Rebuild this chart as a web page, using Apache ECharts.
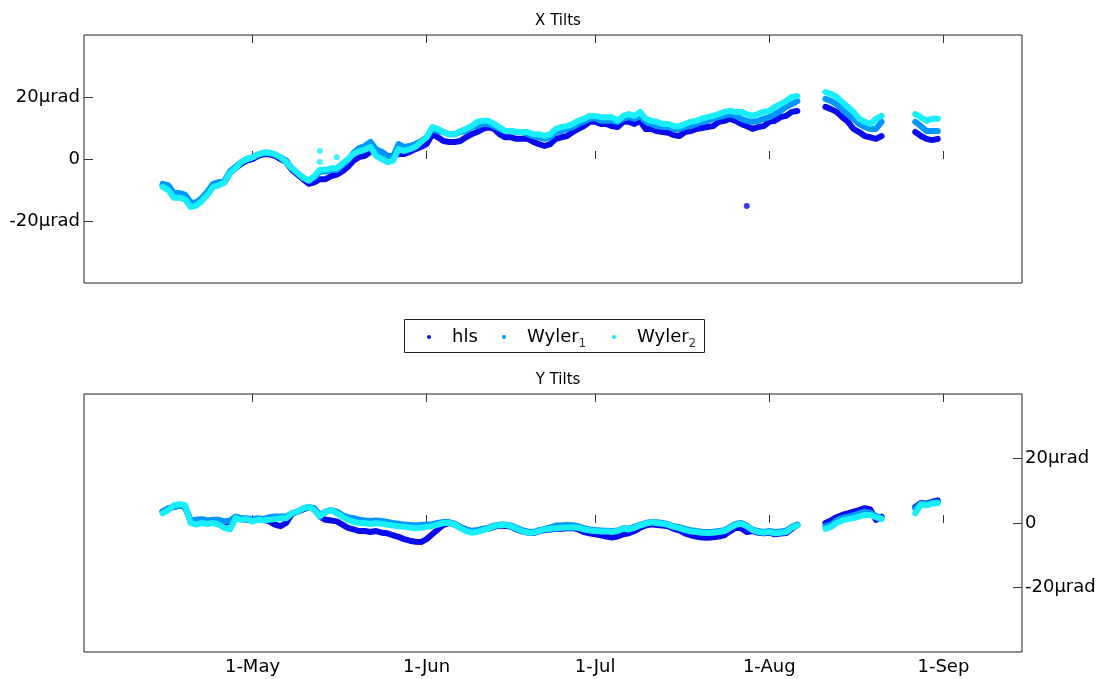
<!DOCTYPE html>
<html><head><meta charset="utf-8">
<script src="https://cdn.jsdelivr.net/npm/echarts@6/dist/echarts.min.js"></script>
<style>html,body{margin:0;padding:0;background:#fff}#c{width:1099px;height:679px}</style>
</head><body><div id="c"></div>
<script>
// ---- data (daily, from 15-Apr to 31-Aug; null = no data) ----
const startDate = '2010-04-15';
const axisStart = '2010-04-01';
const axisEnd = '2010-09-15';
const xTickDates = ['2010-05-01','2010-06-01','2010-07-01','2010-08-01','2010-09-01'];
const yTickValues = [-20, 0, 20];
const seriesNames = ['hls', 'Wyler1', 'Wyler2'];

const xTiltHls = [
 -8.5,-9,-11.5,-11.5,-12,-14.5,-14.5,-13,-11,-8.5,
 -8,-7.5,-4.5,-3,-1.5,-0.5,0,1,1.5,1.5,
 1,0,-1,-3.5,-5,-6.5,-8,-7.5,-6.5,-6.5,
 -5.5,-5,-4,-2.5,-0.5,0.6,1,2.3,2.6,2.3,
 1,1,1.6,1.6,2.3,3.2,3.9,4.8,8,7,
 5.8,5.5,5.5,5.8,7,8,8.7,9.7,10.3,9.7,
 8,7,7,6.5,6.5,6.5,5.5,4.8,4.2,4.8,
 6.5,7,7.4,8.7,9.7,10.6,12,12,11.3,11.3,
 10.6,10.3,12,12,11.3,12.3,9.7,9.7,9,8.7,
 8.5,7.7,7.4,8.7,9,9.7,10,10.3,10.6,12,
 12.3,13,12.3,11.3,10.6,9.7,10.3,10.6,12,12.3,
 13.5,13.9,15.2,15.5,null,null,null,null,16.8,16.1,
 15.2,13.5,12,9.7,8.7,7.4,7,6.5,7.4,null,
 null,null,null,null,8.7,7.4,6.5,6.1,6.5
];
const xTiltWyler1 = [
 -8,-8.5,-11,-11,-11.5,-14,-14,-12.5,-10.5,-8,
 -7.5,-7,-4,-2.5,-1,0,0.5,1.5,2,2,
 1.5,0.5,-0.5,-3,-4.5,-6,-7,-6,-4,-4,
 -3.5,-3.5,-2,-0.5,2,3.5,4.2,5.5,3.2,2.3,
 1,0.6,4.8,3.9,4.2,4.8,5.8,7,9.7,9,
 8.7,8,8,8.7,9,10.3,10.6,11.3,11.3,10.6,
 9.7,9,9,8.7,8.7,8,7.4,7,6.5,7,
 8.7,9,9.7,10.3,11.3,12,13,13.2,12.3,12.3,
 12.3,12,13,13.5,13,13.9,12,11.3,10.6,10.3,
 10.3,9.7,9.7,10.3,10.6,11.3,12,12.3,13,13.5,
 13.9,14.5,13.9,13,12.3,12,12.3,13,13.5,14.5,
 15.5,16.8,17.7,18.7,null,null,null,null,19.4,18.7,
 17.7,16.1,14.5,13,11.3,10.3,9.7,9.7,12,null,
 null,null,null,null,12,10.6,9,9,9
];
const xTiltWyler2 = [
 -9,-10,-12.5,-12.5,-13,-15.5,-15,-13.5,-11.5,-9,
 -8.5,-7.5,-4.5,-3,-1,0,0.5,1.5,2,2,
 1.5,0.5,-1,-3,-4.5,-6,-7,-5.5,-3.5,-3.5,
 -3,-3,-1.5,0,1.6,2.5,3,3.9,1,0,
 -1,-0.6,3.2,2.6,3.2,3.9,5.5,7,10.3,9.7,
 8.7,8,8,9,9.7,10.6,12,12.3,12.3,11.3,
 10.3,9,9,8.7,8.7,8.7,8,8,7.4,8,
 9.7,10.3,10.6,11.3,12.3,13,13.9,13.9,13.5,13.5,
 13.5,12.3,13.9,14.5,13.9,15.2,13,12.3,12,11.3,
 11.3,10.6,10.6,11.3,12,12.3,13,13.5,13.9,14.5,
 15.2,15.5,15.2,15.2,14.5,13.9,14.5,15.2,15.5,16.8,
 17.7,18.7,20,20.3,null,null,null,null,21.6,21,
 20,18.4,16.8,15.2,13,12,11.3,13,13.9,null,
 null,null,null,null,14.5,13.5,12.3,13,13
];
const yTiltHls = [
 3.5,4.5,5,5.3,5,0.5,0.5,0.8,0.5,0.8,
 0.5,0,0.5,1.5,1.2,1,0.8,1,1,0.5,
 -0.5,-1,0,2.8,3.5,4.2,4.8,4.5,2,1,
 0.8,0.5,-0.5,-1.5,-2,-2.5,-2.5,-2.8,-2.5,-3,
 -3.2,-3.8,-4.3,-5,-5.5,-5.8,-5.9,-5,-3.5,-2,
 -0.6,0,-0.5,-1.2,-2,-2.5,-2.3,-2,-1.8,-1.2,
 -0.8,-0.9,-1.2,-2,-2.6,-3,-3.1,-2.6,-2.2,-2,
 -1.8,-1.8,-1.6,-1.6,-2,-2.8,-3.2,-3.5,-3.8,-4.2,
 -4.5,-4.2,-3.5,-3.2,-2.5,-1.5,-0.8,-0.4,-0.6,-0.8,
 -1,-1.8,-2.3,-3.2,-3.8,-4.2,-4.5,-4.6,-4.4,-4.2,
 -3.8,-2.6,-1.5,-1.6,-2.8,-2.5,-3,-3.2,-3,-3.5,
 -3.3,-3.1,-1.8,-0.6,null,null,null,null,0,0.8,
 1.8,2.5,3,3.5,4,4.6,4.2,1,2,null,
 null,null,null,null,5,6.2,6,6.6,7
];
const yTiltWyler1 = [
 3.5,4.5,5,5.3,5,0.8,1,1.2,0.8,1,
 1,0.5,0.8,2,1.5,1.5,1.2,1.5,1.2,1.8,
 2,2,2,3,3.5,4.5,5,4.5,2.5,3.5,
 4,3.5,2.5,1.8,1.5,1,0.8,0.6,0.8,0.6,
 0.3,0,-0.2,-0.5,-0.6,-0.8,-0.6,-0.5,-0.4,0,
 0.3,0.3,-0.2,-1.2,-2,-2.5,-2.2,-1.8,-1.5,-0.8,
 -0.5,-0.5,-0.8,-1.5,-2.2,-2.6,-2.8,-2.2,-1.8,-1.4,
 -0.8,-0.8,-0.6,-0.7,-1,-1.6,-2,-2.2,-2.3,-2.4,
 -2.5,-2.3,-1.6,-1.8,-1.2,-0.6,0,0.3,0.2,0,
 -0.4,-1,-1.3,-1.8,-2.2,-2.5,-2.7,-2.8,-2.7,-2.5,
 -2.2,-1.3,-0.3,0,-0.8,-2,-2.5,-2.8,-2.5,-2.8,
 -2.6,-2.4,-1.2,-0.5,null,null,null,null,-1,-0.5,
 0.8,1.6,2,2.4,3,3.5,3.2,2.2,1.6,null,
 null,null,null,null,4.5,6,5.8,6.3,6.5
];
const yTiltWyler2 = [
 3,4,5.5,5.8,5.5,0,-0.5,0,-0.3,0,
 -0.5,-1.5,-2,1.5,1,1.2,0.5,1,0.8,1,
 1.2,1.5,1.5,3,3.5,4.5,5,4,2,3.5,
 4,3,2,1,0.3,0,0,-0.3,0,-0.2,
 -0.5,-0.8,-1,-1.2,-1.4,-1.6,-1.5,-1.2,-1,-0.5,
 0,0,-0.5,-1.6,-2.5,-3,-2.8,-2.2,-1.8,-1,
 -0.6,-0.6,-1,-1.8,-2.5,-3,-3,-2.5,-2,-1.8,
 -1.6,-1.5,-1.4,-1.3,-1.5,-2,-2.3,-2.5,-2.6,-2.6,
 -2.8,-2.5,-1.8,-2,-1.5,-0.8,-0.2,0.2,0,-0.2,
 -0.6,-1.2,-1.6,-2.2,-2.6,-2.8,-3,-3.1,-3,-2.8,
 -2.5,-1.6,-0.6,-0.2,-1,-2.2,-2.8,-3,-2.8,-3.2,
 -3,-2.8,-1.5,-0.8,null,null,null,null,-1.8,-1.2,
 0,0.8,1.2,1.5,2,2.5,2.5,1.8,1.2,null,
 null,null,null,null,3,5.8,5.5,6,6.2
];
// isolated points
const xHlsOutlierDates = ['2010-07-28'];
const xHlsOutlierValues = [-15.2];
const xWyler2OutlierDates = ['2010-05-13','2010-05-13','2010-05-16'];
const xWyler2OutlierValues = [2.6, -1, 0.6];

// ---- helpers ----
const MONTHS = ['Jan','Feb','Mar','Apr','May','Jun','Jul','Aug','Sep','Oct','Nov','Dec'];
function ts(s){const p=s.split('-').map(Number);return Date.UTC(p[0],p[1]-1,p[2]);}
const DAY = 86400000;
const t0 = ts(startDate);
const dayTimes = xTiltHls.map((_, i) => t0 + i * DAY);
function pairs(arr){return arr.map((v,i)=>[dayTimes[i], v==null?'-':v]);}
function ptPairs(ds, vs){return ds.map((d,i)=>[ts(d), vs[i]]);}
const xTickTs = xTickDates.map(ts);

const COLORS = {hls:'#0a0aee', Wyler1:'#0096ff', Wyler2:'#18eefa'};
const FONT = 'DejaVu Sans';

function xAxisDef(grid, pos, showLabel){
  return {type:'value', gridIndex:grid, position:pos, min:ts(axisStart), max:ts(axisEnd),
    axisLine:{show:false}, splitLine:{show:false},
    axisTick:{show:true, inside:true, length:8, customValues:xTickTs, lineStyle:{color:'#333'}},
    axisLabel:{show:showLabel, customValues:xTickTs, margin:6, fontFamily:FONT, fontSize:18, color:'#000',
      formatter:v=>{const d=new Date(v);return d.getUTCDate()+'-'+MONTHS[d.getUTCMonth()];}}};
}
function yAxisDef(grid, pos){
  return {type:'value', gridIndex:grid, position:pos, min:-40, max:40,
    axisLine:{show:false}, splitLine:{show:false},
    axisTick:{show:true, inside:true, length:9, customValues:yTickValues, lineStyle:{color:'#333'}},
    axisLabel:{customValues:yTickValues, margin:pos==='left'?4:3, fontFamily:FONT, fontSize:18, color:'#000',
      formatter:v=>v===0?'0':(v+'\u00b5rad')}};
}
function lineSeries(name, arr, xi, yi){
  return {name, type:'line', xAxisIndex:xi, yAxisIndex:yi, data:pairs(arr),
    showSymbol:false, symbol:'circle', connectNulls:false, color:COLORS[name],
    lineStyle:{width:6, color:COLORS[name], join:'round', cap:'round'}, emphasis:{disabled:true}};
}
function dotSeries(name, data, xi, yi){
  return {name, type:'scatter', xAxisIndex:xi, yAxisIndex:yi, data, symbolSize:6,
    color:COLORS[name], itemStyle:{color:COLORS[name]}, emphasis:{disabled:true}};
}
function legendDef(name, left){
  return {data:[{name, icon:'circle'}], left, top:328, itemWidth:18, itemHeight:4, itemGap:0,
    selectedMode:false, padding:0,
    formatter:n=>n.startsWith('Wyler')?('{n|Wyler}{s|'+n.slice(5)+'}'):('{n|'+n+'}'),
    textStyle:{fontFamily:FONT, fontSize:18, color:'#000',
      rich:{n:{fontFamily:FONT, fontSize:18, lineHeight:26, color:'#000', padding:[0,0,0,9]},
            s:{fontFamily:FONT, fontSize:12, lineHeight:12, verticalAlign:'bottom', color:'#333'}}}};
}

const chart = echarts.init(document.getElementById('c'), null, {renderer:'canvas'});
chart.setOption({
  animation:false,
  backgroundColor:'#fff',
  title:[
    {text:'X Tilts', left:553, top:9, textAlign:'center', textStyle:{fontFamily:FONT, fontSize:15, fontWeight:'normal', color:'#000'}},
    {text:'Y Tilts', left:553, top:368, textAlign:'center', textStyle:{fontFamily:FONT, fontSize:15, fontWeight:'normal', color:'#000'}}
  ],
  grid:[
    {left:84, right:77, top:35, height:248, show:true, borderColor:'#222', borderWidth:1, backgroundColor:'transparent'},
    {left:84, right:77, top:394, height:258, show:true, borderColor:'#222', borderWidth:1, backgroundColor:'transparent'}
  ],
  xAxis:[xAxisDef(0,'bottom',false), xAxisDef(0,'top',false), xAxisDef(1,'bottom',true), xAxisDef(1,'top',false)],
  yAxis:[yAxisDef(0,'left'), yAxisDef(1,'right')],
  legend:[legendDef('hls',427), legendDef('Wyler1',502), legendDef('Wyler2',612)],
  graphic:[{type:'rect', shape:{x:404.5, y:319.5, width:300, height:33}, style:{fill:'none', stroke:'#222', lineWidth:1}, z:-1}],
  series:[
    lineSeries('hls', xTiltHls, 0, 0), lineSeries('Wyler1', xTiltWyler1, 0, 0), lineSeries('Wyler2', xTiltWyler2, 0, 0),
    dotSeries('hls', ptPairs(xHlsOutlierDates, xHlsOutlierValues), 0, 0),
    dotSeries('Wyler2', ptPairs(xWyler2OutlierDates, xWyler2OutlierValues), 0, 0),
    lineSeries('hls', yTiltHls, 2, 1), lineSeries('Wyler1', yTiltWyler1, 2, 1), lineSeries('Wyler2', yTiltWyler2, 2, 1)
  ]
});
</script></body></html>
